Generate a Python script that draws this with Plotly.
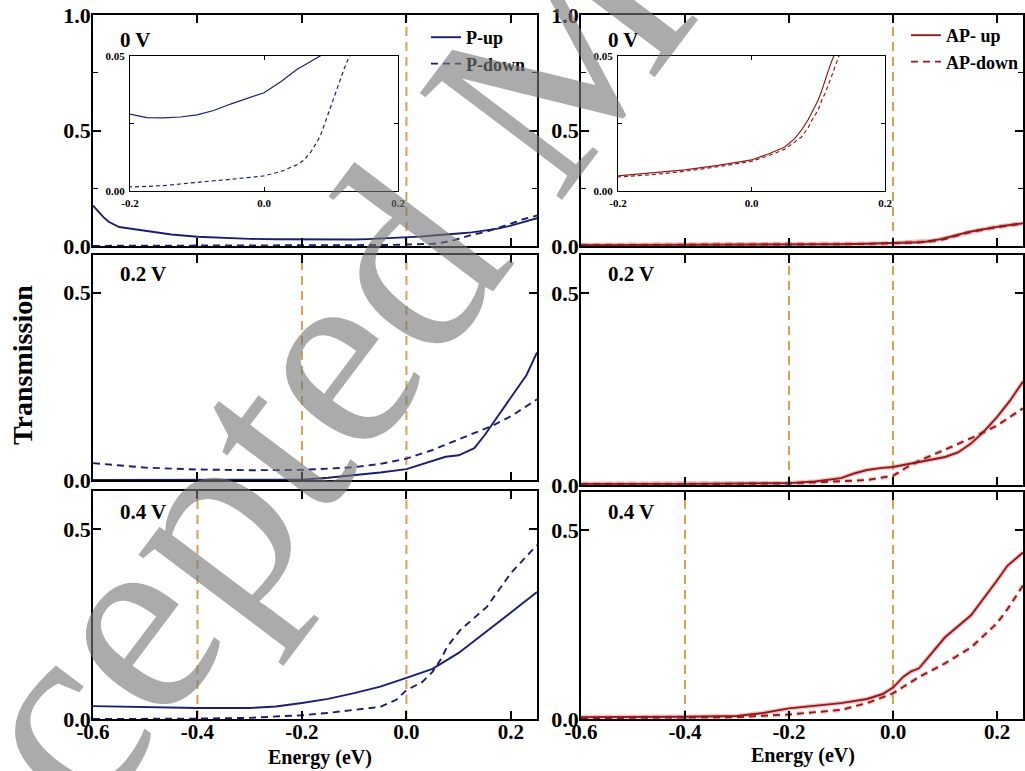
import plotly.graph_objects as go

# ---------------- data: transmission spectra T(E) ----------------
# Parallel (P) configuration, 0 V
E_P0_up = [-0.6, -0.59, -0.58, -0.57, -0.55, -0.5, -0.45, -0.4, -0.35, -0.3, -0.25, -0.2,
           -0.175, -0.15, -0.125, -0.1, -0.075, -0.05, -0.025, 0.0, 0.025, 0.05, 0.06,
           0.075, 0.085, 0.1, 0.125, 0.15, 0.175, 0.2, 0.225, 0.25]
T_P0_up = [0.175, 0.15, 0.125, 0.105, 0.082, 0.066, 0.05, 0.04, 0.034, 0.031, 0.029, 0.0285,
           0.0272, 0.0271, 0.0274, 0.0282, 0.0298, 0.0322, 0.0343, 0.0364, 0.0405, 0.0452, 0.0466,
           0.0488, 0.0502, 0.054, 0.059, 0.066, 0.075, 0.088, 0.103, 0.12]
E_P0_dn = [-0.6, -0.5, -0.4, -0.3, -0.25, -0.2, -0.175, -0.15, -0.125, -0.1, -0.075, -0.05,
           -0.025, 0.0, 0.025, 0.05, 0.06, 0.07, 0.08, 0.085, 0.09, 0.095, 0.1, 0.105, 0.11,
           0.115, 0.12, 0.125, 0.15, 0.175, 0.2, 0.225, 0.25]
T_P0_dn = [0.0005, 0.0007, 0.0009, 0.0011, 0.0013, 0.0015, 0.0017, 0.002, 0.0026, 0.0033,
           0.0038, 0.0043, 0.0049, 0.0056, 0.0072, 0.0098, 0.0115, 0.0145, 0.0185, 0.021,
           0.0245, 0.028, 0.032, 0.0355, 0.039, 0.0425, 0.0455, 0.0485, 0.06, 0.077, 0.097,
           0.117, 0.132]

# Antiparallel (AP) configuration, 0 V
E_A0_up = [-0.6, -0.5, -0.4, -0.3, -0.2, -0.15, -0.1, -0.05, 0.0, 0.025, 0.05, 0.065, 0.075,
           0.085, 0.09, 0.095, 0.1, 0.105, 0.11, 0.115, 0.12, 0.125, 0.14, 0.15, 0.175, 0.2,
           0.225, 0.25]
T_A0_up = [0.004, 0.0042, 0.0045, 0.005, 0.0056, 0.0066, 0.0078, 0.0095, 0.0115, 0.0137,
           0.0163, 0.0195, 0.0226, 0.0265, 0.029, 0.031, 0.0337, 0.037, 0.041, 0.0445, 0.048,
           0.051, 0.058, 0.063, 0.074, 0.083, 0.091, 0.098]
E_A0_dn = [-0.6, -0.5, -0.4, -0.3, -0.2, -0.15, -0.1, -0.05, 0.0, 0.025, 0.05, 0.065, 0.075,
           0.085, 0.09, 0.1, 0.105, 0.11, 0.115, 0.12, 0.125, 0.13, 0.14, 0.15, 0.175, 0.2,
           0.225, 0.25]
T_A0_dn = [0.0035, 0.0037, 0.004, 0.0045, 0.0052, 0.006, 0.0073, 0.009, 0.011, 0.013, 0.0155,
           0.018, 0.020, 0.0235, 0.026, 0.030, 0.0335, 0.036, 0.039, 0.0425, 0.046, 0.050,
           0.056, 0.061, 0.073, 0.082, 0.09, 0.097]

# P, 0.2 V
E_P2_up = [-0.6, -0.4, -0.25, -0.2, -0.15, -0.1, -0.05, 0.0, 0.025, 0.05, 0.075, 0.1, 0.13,
           0.15, 0.165, 0.2, 0.23, 0.25]
T_P2_up = [0.0, 0.0, 0.0, 0.001, 0.006, 0.013, 0.02, 0.029, 0.04, 0.053, 0.062, 0.066, 0.085,
           0.12, 0.15, 0.22, 0.28, 0.34]
E_P2_dn = [-0.6, -0.5, -0.4, -0.3, -0.2, -0.1, -0.05, 0.0, 0.05, 0.1, 0.15, 0.165, 0.2, 0.25]
T_P2_dn = [0.045, 0.033, 0.028, 0.026, 0.027, 0.034, 0.043, 0.057, 0.08, 0.108, 0.135, 0.145,
           0.17, 0.215]

# AP, 0.2 V
E_A2_up = [-0.6, -0.4, -0.2, -0.15, -0.1, -0.075, -0.05, -0.025, 0.0, 0.05, 0.1, 0.125, 0.15,
           0.175, 0.2, 0.225, 0.25]
T_A2_up = [0.003, 0.003, 0.005, 0.009, 0.018, 0.03, 0.039, 0.044, 0.047, 0.06, 0.073, 0.085,
           0.108, 0.14, 0.177, 0.22, 0.27]
E_A2_dn = [-0.6, -0.4, -0.2, -0.1, -0.05, 0.0, 0.025, 0.05, 0.075, 0.1, 0.125, 0.15, 0.2, 0.25]
T_A2_dn = [0.002, 0.002, 0.004, 0.009, 0.013, 0.024, 0.045, 0.063, 0.078, 0.092, 0.107, 0.122,
           0.155, 0.2]

# P, 0.4 V
E_P4_up = [-0.6, -0.5, -0.4, -0.3, -0.25, -0.2, -0.15, -0.1, -0.05, 0.0, 0.05, 0.1, 0.15, 0.2,
           0.25]
T_P4_up = [0.034, 0.031, 0.029, 0.029, 0.033, 0.042, 0.053, 0.068, 0.085, 0.108, 0.132, 0.174,
           0.226, 0.28, 0.334]
E_P4_dn = [-0.6, -0.5, -0.4, -0.3, -0.2, -0.15, -0.1, -0.05, -0.02, 0.0, 0.03, 0.05, 0.065,
           0.078, 0.103, 0.154, 0.2, 0.217, 0.25]
T_P4_dn = [0.0, 0.0, 0.001, 0.003, 0.01, 0.016, 0.024, 0.032, 0.05, 0.076, 0.097, 0.124, 0.155,
           0.19, 0.234, 0.295, 0.384, 0.41, 0.458]

# AP, 0.4 V
E_A4_up = [-0.6, -0.5, -0.4, -0.3, -0.25, -0.2, -0.15, -0.1, -0.05, -0.02, 0.0, 0.02, 0.035,
           0.05, 0.1, 0.15, 0.2, 0.22, 0.25]
T_A4_up = [0.005, 0.005, 0.006, 0.008, 0.016, 0.028, 0.035, 0.042, 0.053, 0.066, 0.083, 0.112,
           0.126, 0.134, 0.216, 0.274, 0.366, 0.405, 0.44]
E_A4_dn = [-0.6, -0.4, -0.3, -0.2, -0.15, -0.1, -0.05, 0.0, 0.05, 0.1, 0.15, 0.2, 0.22, 0.25]
T_A4_dn = [0.002, 0.003, 0.005, 0.012, 0.018, 0.024, 0.042, 0.068, 0.111, 0.147, 0.189, 0.253,
           0.29, 0.353]

# bias-window edges marked in each row
BIAS_LINES = {0: [0.0], 1: [-0.2, 0.0], 2: [-0.4, 0.0]}
PANEL_LABELS = ["0 V", "0.2 V", "0.4 V"]

# ---------------- styling ----------------
SERIF = "Liberation Serif"
BLUE = "#1B1F6C"
RED = "#8E1B1E"
RED_GLOW = "rgba(225,90,90,0.35)"
ORANGE = "#D6A056"
W, H = 1025, 771


def px_x(p):
    return p / W


def px_y(p):
    return 1 - p / H


def axis_style(tick_size=21, line_w=1.5, tick_len=8, labels=True):
    return dict(
        showline=True, linecolor="black", linewidth=line_w, mirror="allticks",
        ticks="inside", ticklen=tick_len, tickwidth=line_w, tickcolor="black",
        showgrid=False, zeroline=False, showticklabels=labels, automargin=False,
        tickfont=dict(family=SERIF, size=tick_size, color="black", weight="bold"),
    )


fig = go.Figure()

# panel geometry (paper pixels): left/right columns, three rows
cols = [(93, 537), (581, 1023)]
rows = {0: [(15, 246), (15, 246)], 1: [(255, 480), (255, 485)], 2: [(491, 719), (492, 719)]}
yranges = {0: [0, 1.0], 1: [0, 0.6], 2: [0, 0.6]}

series = {
    (0, 0): (E_P0_up, T_P0_up, E_P0_dn, T_P0_dn),
    (0, 1): (E_A0_up, T_A0_up, E_A0_dn, T_A0_dn),
    (1, 0): (E_P2_up, T_P2_up, E_P2_dn, T_P2_dn),
    (1, 1): (E_A2_up, T_A2_up, E_A2_dn, T_A2_dn),
    (2, 0): (E_P4_up, T_P4_up, E_P4_dn, T_P4_dn),
    (2, 1): (E_A4_up, T_A4_up, E_A4_dn, T_A4_dn),
}
names = {0: ("P-up", "P-down"), 1: ("AP- up", "AP-down")}

layout_axes = {}
shapes = []
annotations = []
idx = 0
for r in range(3):
    for c in range(2):
        idx += 1
        xa = "x" if idx == 1 else f"x{idx}"
        ya = "y" if idx == 1 else f"y{idx}"
        xkey = "xaxis" if idx == 1 else f"xaxis{idx}"
        ykey = "yaxis" if idx == 1 else f"yaxis{idx}"
        x0, x1 = cols[c]
        top, bot = rows[r][c]
        xs = axis_style(tick_size=21, labels=(r == 2))
        xs.update(domain=[px_x(x0), px_x(x1)], range=[-0.6, 0.25], anchor=ya,
                  tickmode="array", tickvals=[-0.6, -0.4, -0.2, 0.0, 0.2],
                  ticktext=["-0.6", "-0.4", "-0.2", "0.0", "0.2"], ticklabelstandoff=-7)
        ys = axis_style(tick_size=22)
        ys.update(domain=[px_y(bot), px_y(top)], range=yranges[r], anchor=xa,
                  tickmode="array", ticklabelstandoff=-4)
        if r == 0:
            ys.update(tickvals=[0.0, 0.5, 1.0], ticktext=["0.0", "0.5", "1.0"],
                      minor=dict(ticks="inside", ticklen=5, tickwidth=1.2, tickcolor="black",
                                 tickvals=[0.25, 0.75]))
        else:
            ys.update(tickvals=[0.0, 0.5], ticktext=["0.0", "0.5"])
        layout_axes[xkey] = xs
        layout_axes[ykey] = ys

        color = BLUE if c == 0 else RED
        Eu, Tu, Ed, Td = series[(r, c)]
        leg = "legend" if c == 0 else "legend2"
        if c == 1:
            # soft glow beneath the red curves
            fig.add_trace(go.Scatter(x=Eu, y=Tu, xaxis=xa, yaxis=ya, mode="lines",
                                     line=dict(color=RED_GLOW, width=4.5), showlegend=False,
                                     hoverinfo="skip"))
            fig.add_trace(go.Scatter(x=Ed, y=Td, xaxis=xa, yaxis=ya, mode="lines",
                                     line=dict(color=RED_GLOW, width=4.5, dash="7px,5px"),
                                     showlegend=False, hoverinfo="skip"))
        fig.add_trace(go.Scatter(x=Eu, y=Tu, xaxis=xa, yaxis=ya, mode="lines",
                                 line=dict(color=color, width=1.9), name=names[c][0],
                                 showlegend=(r == 0), legend=leg))
        fig.add_trace(go.Scatter(x=Ed, y=Td, xaxis=xa, yaxis=ya, mode="lines",
                                 line=dict(color=color, width=1.9, dash="7px,5px"),
                                 name=names[c][1], showlegend=(r == 0), legend=leg))

        for v in BIAS_LINES[r]:
            shapes.append(dict(type="line", xref=xa, yref=f"{ya} domain", x0=v, x1=v,
                               y0=0, y1=1, layer="below",
                               line=dict(color=ORANGE, width=2, dash="9px,6px")))

        lab_x = 118 if c == 0 else 606
        lab_y = {0: 40, 1: 274, 2: 512}[r]
        annotations.append(dict(text=PANEL_LABELS[r], xref="paper", yref="paper",
                                x=px_x(lab_x), y=px_y(lab_y), xanchor="left", yanchor="middle",
                                showarrow=False,
                                font=dict(family=SERIF, size=21, color="black", weight="bold")))

# insets magnifying the 0 V spectra around the Fermi level
insets = [((130, 398), 0, (E_P0_up, T_P0_up, E_P0_dn, T_P0_dn), BLUE),
          ((618, 885), 1, (E_A0_up, T_A0_up, E_A0_dn, T_A0_dn), RED)]
for (ix0, ix1), c, (Eu, Tu, Ed, Td), color in insets:
    idx += 1
    xa, ya = f"x{idx}", f"y{idx}"
    xs = axis_style(tick_size=11, line_w=1.0, tick_len=4)
    xs.update(domain=[px_x(ix0), px_x(ix1)], range=[-0.2, 0.2], anchor=ya,
              tickmode="array", tickvals=[-0.2, 0.0, 0.2], ticktext=["-0.2", "0.0", "0.2"],
              ticklabelstandoff=2)
    ys = axis_style(tick_size=11, line_w=1.0, tick_len=4)
    ys.update(domain=[px_y(191), px_y(56)], range=[0, 0.05], anchor=xa,
              tickmode="array", tickvals=[0.0, 0.025, 0.05], ticktext=["0.00", "", "0.05"],
              ticklabelstandoff=2)
    layout_axes[f"xaxis{idx}"] = xs
    layout_axes[f"yaxis{idx}"] = ys
    fig.add_trace(go.Scatter(x=Eu, y=Tu, xaxis=xa, yaxis=ya, mode="lines",
                             line=dict(color=color, width=1.2), showlegend=False))
    fig.add_trace(go.Scatter(x=Ed, y=Td, xaxis=xa, yaxis=ya, mode="lines",
                             line=dict(color=color, width=1.2, dash="4px,3px"), showlegend=False))
    shapes.append(dict(type="line", xref=xa, yref=f"{ya} domain", x0=0.0, x1=0.0, y0=0, y1=1,
                       layer="below", line=dict(color=ORANGE, width=1.3, dash="5px,4px")))

# shared axis titles
annotations.append(dict(text="Transmission", xref="paper", yref="paper", x=px_x(22),
                        y=px_y(365), xanchor="center", yanchor="middle", textangle=-90,
                        showarrow=False,
                        font=dict(family=SERIF, size=28, color="black", weight="bold")))
for cx, cy in [(320, 757), (803, 755)]:
    annotations.append(dict(text="Energy (eV)", xref="paper", yref="paper", x=px_x(cx),
                            y=px_y(cy), xanchor="center", yanchor="middle", showarrow=False,
                            font=dict(family=SERIF, size=20, color="black", weight="bold")))

# diagonal watermark
annotations.append(dict(text="Accepted Manuscript", xref="paper", yref="paper",
                        x=px_x(528), y=px_y(94), xanchor="center", yanchor="middle",
                        textangle=-53, showarrow=False,
                        font=dict(family=SERIF, size=272, color="rgba(120,120,120,0.62)")))

legend_font = dict(family=SERIF, size=18, color="black", weight="bold")
fig.update_layout(
    width=W, height=H, autosize=False,
    margin=dict(l=0, r=0, t=0, b=0),
    paper_bgcolor="white", plot_bgcolor="white",
    shapes=shapes, annotations=annotations,
    legend=dict(x=px_x(426), y=px_y(19), xanchor="left", yanchor="top",
                bgcolor="rgba(0,0,0,0)", font=legend_font, tracegroupgap=0),
    legend2=dict(x=px_x(906), y=px_y(17), xanchor="left", yanchor="top",
                 bgcolor="rgba(0,0,0,0)", font=legend_font, tracegroupgap=0),
    **layout_axes,
)

fig.write_html("out.html")
